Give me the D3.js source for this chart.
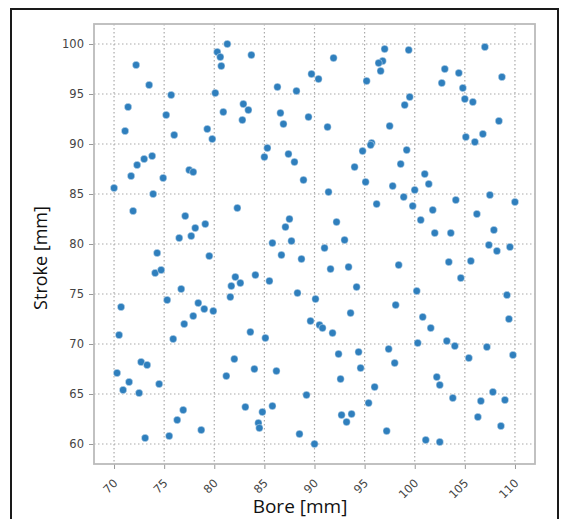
<!DOCTYPE html>
<html><head><meta charset="utf-8">
<script src="https://cdn.jsdelivr.net/npm/d3@7"></script>
<style>body{margin:0;background:#fff}svg{display:block}</style>
</head><body>
<svg id="c" width="566" height="519"></svg>
<script>
const bore = [72.2,73.5,71.4,71.1,75.7,75.2,76.0,79.3,79.8,80.3,80.6,81.3,80.7,83.7,80.1,80.9,82.9,83.4,82.8,86.3,88.2,89.7,86.6,86.9,89.4,85.3,85.0,87.4,88.0,88.9,70.0,71.7,72.3,73.0,73.8,74.9,73.9,77.5,77.9,71.9,77.1,78.1,79.1,77.7,76.5,82.3,87.5,87.1,87.7,
91.9,90.4,97.0,99.4,96.8,96.4,96.6,95.2,99.5,99.0,103.0,104.4,102.7,104.8,105.0,105.8,107.0,108.7,91.3,97.5,95.7,95.6,94.8,99.2,94.0,98.6,95.1,97.8,101.0,101.4,98.9,100.0,99.8,96.2,91.4,105.1,106.8,106.0,108.4,107.5,110.0,104.1,101.8,100.6,106.2,107.9,102.0,103.6,92.2,93.0,
74.3,74.1,74.7,79.5,76.7,75.3,70.7,70.5,78.4,79.0,79.9,77.9,77.0,75.9,85.8,86.7,88.7,82.1,81.7,82.6,81.6,84.1,85.5,88.3,90.1,89.6,90.5,83.6,85.1,70.3,72.7,73.3,71.5,70.9,72.5,74.5,82.0,81.2,84.0,86.2,89.2,83.1,84.8,85.8,84.4,84.5,76.9,76.3,78.7,75.5,73.1,88.5,90.0,
91.0,91.6,93.4,98.4,94.2,90.8,91.8,93.6,100.2,98.1,100.8,101.6,103.2,104.0,100.3,103.4,105.6,104.6,107.4,108.2,109.5,109.2,109.4,109.8,107.2,105.4,92.4,94.4,94.6,97.4,98.0,92.6,96.0,95.4,92.7,93.7,93.2,97.2,102.2,102.5,103.8,107.8,106.6,109.0,106.3,108.6,101.1,102.5];
const stroke = [97.9,95.9,93.7,91.3,94.9,92.9,90.9,91.5,90.5,99.2,98.7,100.0,97.8,98.9,95.1,93.2,94.0,93.4,92.4,95.7,95.3,97.0,93.1,92.0,92.7,89.6,88.7,89.0,88.2,86.4,85.6,86.8,87.9,88.5,88.8,86.6,85.0,87.4,87.2,83.3,82.8,81.6,82.0,80.8,80.6,83.6,82.5,81.7,80.3,
98.6,96.5,99.5,99.4,98.3,98.1,97.3,96.3,94.7,93.9,97.5,97.1,96.1,95.6,94.5,94.2,99.7,96.7,91.7,91.8,90.1,89.9,89.3,89.4,87.7,88.0,86.2,85.8,87.0,86.0,84.7,85.4,83.8,84.0,85.2,90.7,91.0,90.2,92.3,84.9,84.2,84.4,83.4,82.4,83.0,81.4,81.1,81.1,82.2,80.4,
79.1,77.1,77.4,78.8,75.5,74.4,73.7,70.9,74.1,73.5,73.3,72.8,72.0,70.5,80.1,78.9,78.5,76.7,75.8,76.1,74.7,76.9,76.3,75.1,74.5,72.3,71.9,71.2,70.6,67.1,68.2,67.9,66.2,65.4,65.1,66.0,68.5,66.8,67.5,67.3,64.9,63.7,63.2,63.8,62.1,61.6,63.4,62.4,61.4,60.8,60.6,61.0,60.0,
79.6,77.5,77.7,77.9,75.7,71.6,71.1,73.1,75.3,73.9,72.7,71.6,70.3,69.8,70.1,78.2,78.3,76.6,79.9,79.3,79.7,74.9,72.5,68.9,69.7,68.6,69.0,69.2,67.6,69.5,68.1,66.5,65.7,64.1,62.9,63.0,62.2,61.3,66.7,65.9,64.6,65.2,64.3,64.4,62.7,61.8,60.4,60.2];
const xTicks = [70,75,80,85,90,95,100,105,110];
const yTicks = [60,65,70,75,80,85,90,95,100];
const xLabel = "Bore [mm]";
const yLabel = "Stroke [mm]";

const svg = d3.select("#c");
const L=94, R=535, T=24, B=464;
const x = d3.scaleLinear().domain([68,112]).range([L,R]);
const y = d3.scaleLinear().domain([58,102]).range([B,T]);

// outer border
svg.append("rect").attr("x",11).attr("y",9).attr("width",547).attr("height",520)
  .attr("fill","none").attr("stroke","#1a1a1a").attr("stroke-width",2);

// grid
const g = svg.append("g");
g.selectAll(".gx").data(xTicks).join("line")
  .attr("x1",d=>x(d)).attr("x2",d=>x(d)).attr("y1",T).attr("y2",B)
  .attr("stroke","#aaa").attr("stroke-width",1.2).attr("stroke-dasharray","1.5,2.5");
g.selectAll(".gy").data(yTicks).join("line")
  .attr("y1",d=>y(d)).attr("y2",d=>y(d)).attr("x1",L).attr("x2",R)
  .attr("stroke","#aaa").attr("stroke-width",1.2).attr("stroke-dasharray","1.5,2.5");

// axes
const xa = svg.append("g").attr("transform",`translate(0,${B})`)
  .call(d3.axisBottom(x).tickValues(xTicks).tickSize(5));
xa.select(".domain").remove();
xa.selectAll("line").attr("stroke","#999");
xa.selectAll("text").attr("fill","#444").attr("font-size",11.5).attr("font-family","DejaVu Sans, sans-serif")
  .attr("text-anchor","end").attr("x",0).attr("y",0).attr("dy","0.35em")
  .attr("transform","translate(1,17) rotate(-45)");

const ya = svg.append("g").attr("transform",`translate(${L},0)`)
  .call(d3.axisLeft(y).tickValues(yTicks).tickSize(5).tickPadding(5));
ya.select(".domain").remove();
ya.selectAll("line").attr("stroke","#999");
ya.selectAll("text").attr("fill","#444").attr("font-size",11.5).attr("font-family","DejaVu Sans, sans-serif");

// frame
svg.append("rect").attr("x",L).attr("y",T).attr("width",R-L).attr("height",B-T)
  .attr("fill","none").attr("stroke","#bbb").attr("stroke-width",1.8);

// points
svg.append("g").selectAll("circle").data(bore.map((b,i)=>[b,stroke[i]])).join("circle")
  .attr("cx",d=>x(d[0])).attr("cy",d=>y(d[1])).attr("r",3.7)
  .attr("fill","#2f7fbd").attr("stroke","#fff").attr("stroke-width",0.4);

// labels
svg.append("text").attr("x",300).attr("y",513).attr("text-anchor","middle")
  .attr("font-family","Open Sans, Noto Sans, sans-serif").attr("font-size",19).attr("fill","#111").text(xLabel);
svg.append("text").attr("transform",`translate(47,258) rotate(-90)`).attr("text-anchor","middle")
  .attr("font-family","Open Sans, Noto Sans, sans-serif").attr("font-size",18).attr("fill","#111").text(yLabel);
</script>
</body></html>
